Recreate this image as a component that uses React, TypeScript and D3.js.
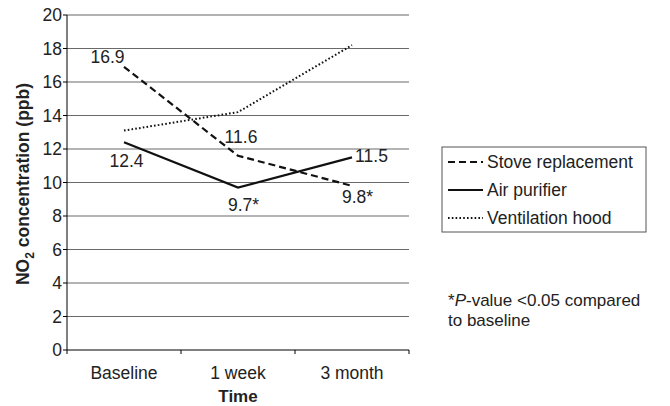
import React from "react";
import * as d3 from "d3";

const categories = ["Baseline", "1 week", "3 month"];
const stoveValues = [16.9, 11.6, 9.8];
const purifierValues = [12.4, 9.7, 11.5];
const hoodValues = [13.1, 14.2, 18.2];
const stoveLabels = ["16.9", "11.6", "9.8*"];
const purifierLabels = ["12.4", "9.7*", "11.5"];
const yTicks = [0, 2, 4, 6, 8, 10, 12, 14, 16, 18, 20];
const seriesNames = ["Stove replacement", "Air purifier", "Ventilation hood"];

const W = 670, H = 406;
const left = 67, right = 409, top = 15, bottom = 350;
const FONT = "'Liberation Sans', Arial, sans-serif";
const FS = 17.5;

export default function App() {
  const x = d3.scaleBand<string>().domain(categories).range([left, right]).padding(0);
  const y = d3.scaleLinear().domain([0, 20]).range([bottom, top]);
  const cx = (c: string) => (x(c) ?? 0) + x.bandwidth() / 2;
  const line = d3.line<number>().x((_, i) => cx(categories[i])).y((d) => y(d));

  const series = [
    { name: seriesNames[0], values: stoveValues, dash: "7,4", width: 2.2 },
    { name: seriesNames[1], values: purifierValues, dash: "", width: 2.2 },
    { name: seriesNames[2], values: hoodValues, dash: "1.6,2.2", width: 2 },
  ];

  const stoveOff = [[-16.5, -10], [3, -19], [5.5, 11]];
  const purOff = [[2.5, 19], [5.5, 17.5], [19.5, -1.5]];

  return (
    <svg width={W} height={H} style={{ position: "absolute", left: 0, top: 0, background: "#fff" }}>
      <rect width={W} height={H} fill="#fff" />
      {yTicks.filter((t) => t > 0).map((t) => (
        <line key={t} x1={left} x2={right} y1={y(t)} y2={y(t)} stroke={t === 20 ? "#999" : "#6a6a6a"} strokeWidth={t === 20 ? 1.6 : 1.1} />
      ))}
      <line x1={left} x2={left} y1={top} y2={bottom} stroke="#000" strokeWidth={1} />
      <line x1={left} x2={right} y1={bottom} y2={bottom} stroke="#000" strokeWidth={1} />
      {yTicks.map((t) => (
        <g key={t}>
          <line x1={left - 4} x2={left} y1={y(t)} y2={y(t)} stroke="#000" />
          <text x={left - 5} y={y(t)} dy="0.35em" textAnchor="end" fontFamily={FONT} fontSize={FS} fill="#222">{t}</text>
        </g>
      ))}
      {[...categories.map((c) => x(c) ?? 0), right].map((px, i) => (
        <line key={i} x1={px} x2={px} y1={bottom} y2={bottom + 4} stroke="#000" />
      ))}
      {categories.map((c) => (
        <text key={c} x={cx(c)} y={373} dy="0.35em" textAnchor="middle" fontFamily={FONT} fontSize={FS} fill="#222">{c}</text>
      ))}
      <text x={238} y={396} dy="0.35em" textAnchor="middle" fontFamily={FONT} fontSize={17} fontWeight="bold" fill="#222">Time</text>
      <text transform={`translate(23,${184}) rotate(-90)`} textAnchor="middle" dy="0.35em" fontFamily={FONT} fontSize={FS} fontWeight="bold" fill="#222">
        NO<tspan fontSize={12} dy="5">2</tspan><tspan dy="-5"> concentration (ppb)</tspan>
      </text>
      {series.map((s) => (
        <path key={s.name} d={line(s.values) ?? ""} fill="none" stroke="#111" strokeWidth={s.width} strokeDasharray={s.dash || undefined} />
      ))}
      {stoveValues.map((v, i) => (
        <text key={"s" + i} x={cx(categories[i]) + stoveOff[i][0]} y={y(v) + stoveOff[i][1]} dy="0.35em" textAnchor="middle" fontFamily={FONT} fontSize={FS} fill="#222">{stoveLabels[i]}</text>
      ))}
      {purifierValues.map((v, i) => (
        <text key={"p" + i} x={cx(categories[i]) + purOff[i][0]} y={y(v) + purOff[i][1]} dy="0.35em" textAnchor="middle" fontFamily={FONT} fontSize={FS} fill="#222">{purifierLabels[i]}</text>
      ))}
      <rect x={442} y={147} width={204} height={85} fill="#fff" stroke="#555" strokeWidth={1} />
      {series.map((s, i) => (
        <g key={s.name}>
          <line x1={448} x2={483} y1={162 + i * 28} y2={162 + i * 28} stroke="#111" strokeWidth={s.width} strokeDasharray={s.dash || undefined} />
          <text x={487} y={162 + i * 28} dy="0.35em" fontFamily={FONT} fontSize={FS} fill="#222">{s.name}</text>
        </g>
      ))}
      <text x={448} y={300.5} dy="0.35em" fontFamily={FONT} fontSize={17} fill="#222">*<tspan fontStyle="italic">P</tspan>-value &lt;0.05 compared</text>
      <text x={448} y={320} dy="0.35em" fontFamily={FONT} fontSize={17} fill="#222">to baseline</text>
    </svg>
  );
}
